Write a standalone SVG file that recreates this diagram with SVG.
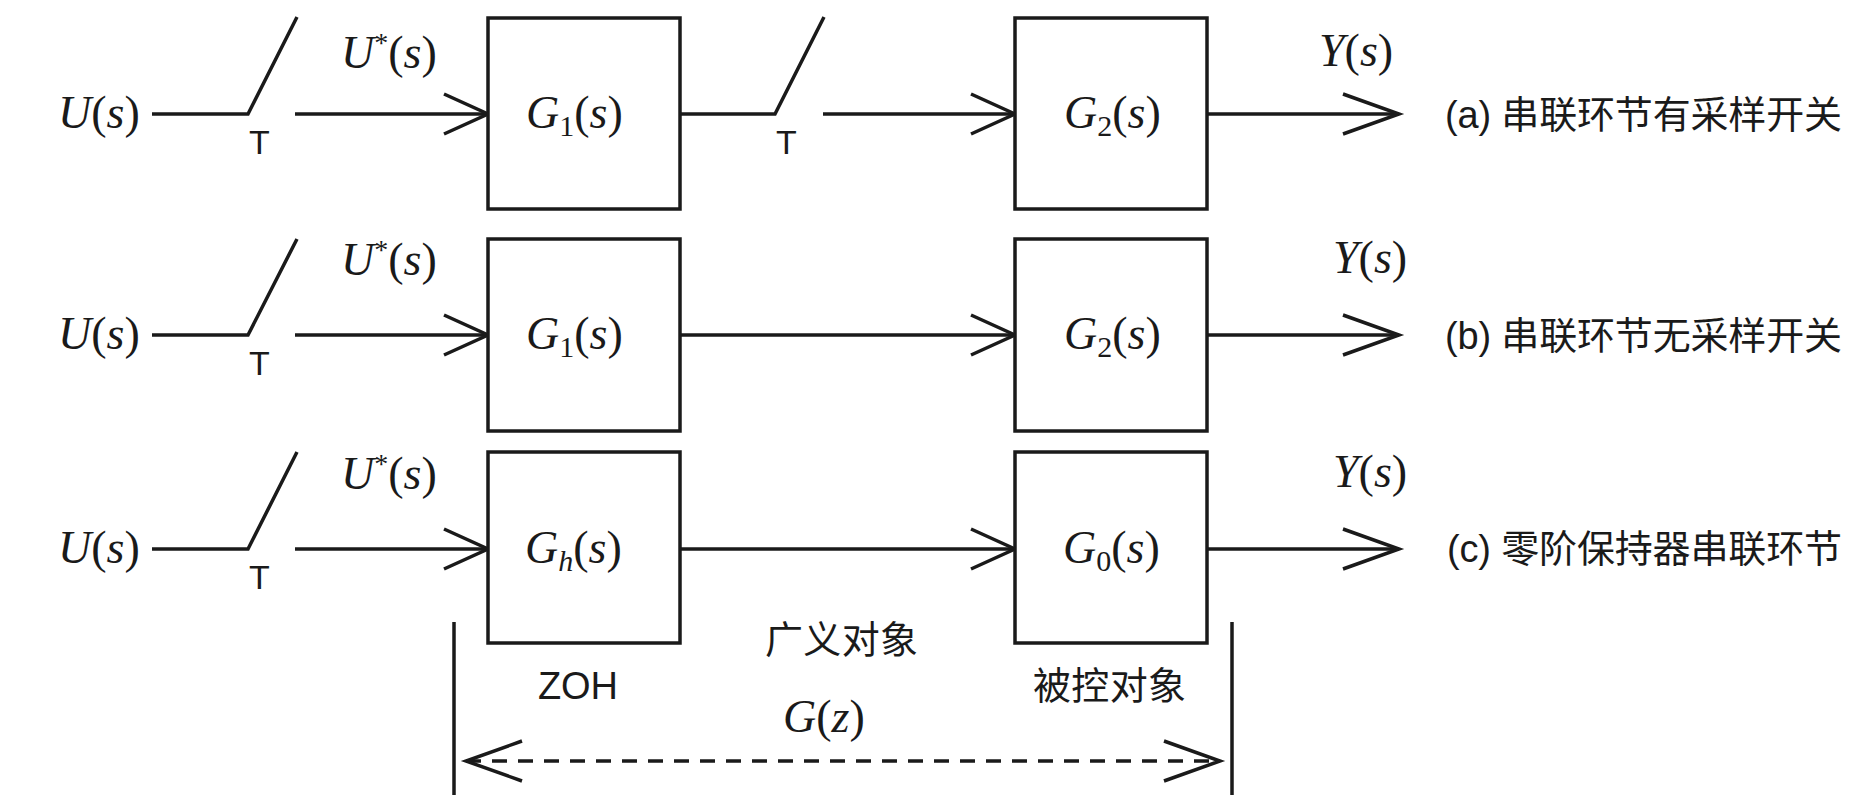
<svg xmlns="http://www.w3.org/2000/svg" width="1875" height="804" viewBox="0 0 1875 804">
<style>
.l{stroke:#1a1a1a;stroke-width:3.5;fill:none}
.b{stroke:#1a1a1a;stroke-width:3.5;fill:#fff}
.m{font-family:"Liberation Serif",serif;font-style:italic;font-size:46px;fill:#1a1a1a}
.sub{font-family:"Liberation Serif",serif;font-size:30px;font-style:normal}
.t{font-family:"Liberation Sans","Noto Sans CJK SC",sans-serif;font-size:34px;fill:#1a1a1a}
.c{font-family:"Liberation Sans","Noto Sans CJK SC",sans-serif;font-size:38px;fill:#1a1a1a}
</style>
<defs>
<marker id="a" markerUnits="userSpaceOnUse" markerWidth="60" markerHeight="50" refX="46" refY="22" orient="auto"><path d="M2,2 L46,22 L2,42" class="l" stroke-width="4"/></marker>
<marker id="a2" markerUnits="userSpaceOnUse" markerWidth="70" markerHeight="50" refX="58" refY="22" orient="auto"><path d="M2,2 L58,22 L2,42" class="l" stroke-width="4"/></marker>
<marker id="d" markerUnits="userSpaceOnUse" markerWidth="70" markerHeight="50" refX="58" refY="22" orient="auto-start-reverse"><path d="M2,2 L58,22 L2,42" class="l" stroke-width="5"/></marker>
</defs>
<g id="connectors">
<path class="l" d="M152,114 H248 L297,17"/>
<path class="l" d="M295,114 H488" marker-end="url(#a)"/>
<path class="l" d="M680,114 H775 L824,17"/>
<path class="l" d="M823,114 H1015" marker-end="url(#a)"/>
<path class="l" d="M1207,114 H1399" marker-end="url(#a2)"/>
<path class="l" d="M152,335 H248 L297,239"/>
<path class="l" d="M295,335 H488" marker-end="url(#a)"/>
<path class="l" d="M680,335 H1015" marker-end="url(#a)"/>
<path class="l" d="M1207,335 H1399" marker-end="url(#a2)"/>
<path class="l" d="M152,549 H248 L297,452"/>
<path class="l" d="M295,549 H488" marker-end="url(#a)"/>
<path class="l" d="M680,549 H1015" marker-end="url(#a)"/>
<path class="l" d="M1207,549 H1399" marker-end="url(#a2)"/>
<path class="l" d="M454,622 V795 M1232,622 V795"/>
<path class="l" d="M466,761 H1220" stroke-width="6" stroke-dasharray="15,11" marker-start="url(#d)" marker-end="url(#d)"/>
</g>
<g id="G1a"><rect class="b" x="488" y="18" width="192" height="191"/><text class="m" x="526" y="128">G<tspan class="sub" dy="8">1</tspan><tspan dy="-8" style="font-style:normal">(</tspan>s<tspan style="font-style:normal">)</tspan></text></g>
<g id="G2a"><rect class="b" x="1015" y="18" width="192" height="191"/><text class="m" x="1064" y="128">G<tspan class="sub" dy="8">2</tspan><tspan dy="-8" style="font-style:normal">(</tspan>s<tspan style="font-style:normal">)</tspan></text></g>
<g id="G1b"><rect class="b" x="488" y="239" width="192" height="192"/><text class="m" x="526" y="349">G<tspan class="sub" dy="8">1</tspan><tspan dy="-8" style="font-style:normal">(</tspan>s<tspan style="font-style:normal">)</tspan></text></g>
<g id="G2b"><rect class="b" x="1015" y="239" width="192" height="192"/><text class="m" x="1064" y="349">G<tspan class="sub" dy="8">2</tspan><tspan dy="-8" style="font-style:normal">(</tspan>s<tspan style="font-style:normal">)</tspan></text></g>
<g id="Gh"><rect class="b" x="488" y="452" width="192" height="191"/><text class="m" x="525" y="563">G<tspan class="sub" style="font-style:italic" dy="8">h</tspan><tspan dy="-8" style="font-style:normal">(</tspan>s<tspan style="font-style:normal">)</tspan></text></g>
<g id="G0"><rect class="b" x="1015" y="452" width="192" height="191"/><text class="m" x="1063" y="563">G<tspan class="sub" dy="8">0</tspan><tspan dy="-8" style="font-style:normal">(</tspan>s<tspan style="font-style:normal">)</tspan></text></g>
<g id="labels">
<text class="m" x="58" y="128">U<tspan style="font-style:normal">(</tspan>s<tspan style="font-style:normal">)</tspan></text>
<text class="m" x="58" y="349">U<tspan style="font-style:normal">(</tspan>s<tspan style="font-style:normal">)</tspan></text>
<text class="m" x="58" y="563">U<tspan style="font-style:normal">(</tspan>s<tspan style="font-style:normal">)</tspan></text>
<text class="t" x="249" y="154">T</text><text class="t" x="776" y="154">T</text>
<text class="t" x="249" y="375">T</text><text class="t" x="249" y="589">T</text>
<text class="m" x="341" y="68">U<tspan font-size="28" dy="-16" style="font-style:normal">*</tspan><tspan dy="16" style="font-style:normal">(</tspan>s<tspan style="font-style:normal">)</tspan></text>
<text class="m" x="341" y="275">U<tspan font-size="28" dy="-16" style="font-style:normal">*</tspan><tspan dy="16" style="font-style:normal">(</tspan>s<tspan style="font-style:normal">)</tspan></text>
<text class="m" x="341" y="489">U<tspan font-size="28" dy="-16" style="font-style:normal">*</tspan><tspan dy="16" style="font-style:normal">(</tspan>s<tspan style="font-style:normal">)</tspan></text>
<text class="m" x="1319" y="66">Y<tspan style="font-style:normal">(</tspan>s<tspan style="font-style:normal">)</tspan></text>
<text class="m" x="1333" y="273">Y<tspan style="font-style:normal">(</tspan>s<tspan style="font-style:normal">)</tspan></text>
<text class="m" x="1333" y="487">Y<tspan style="font-style:normal">(</tspan>s<tspan style="font-style:normal">)</tspan></text>
<text class="c" x="1445" y="128" textLength="397">(a) 串联环节有采样开关</text>
<text class="c" x="1445" y="349" textLength="397">(b) 串联环节无采样开关</text>
<text class="c" x="1447" y="562" textLength="395">(c) 零阶保持器串联环节</text>
<text class="c" x="765" y="653" textLength="153">广义对象</text>
<text class="c" x="538" y="699" textLength="80">ZOH</text>
<text class="c" x="1033" y="699" textLength="153">被控对象</text>
<text class="m" x="783" y="732">G<tspan style="font-style:normal">(</tspan>z<tspan style="font-style:normal">)</tspan></text>
</g>
</svg>
